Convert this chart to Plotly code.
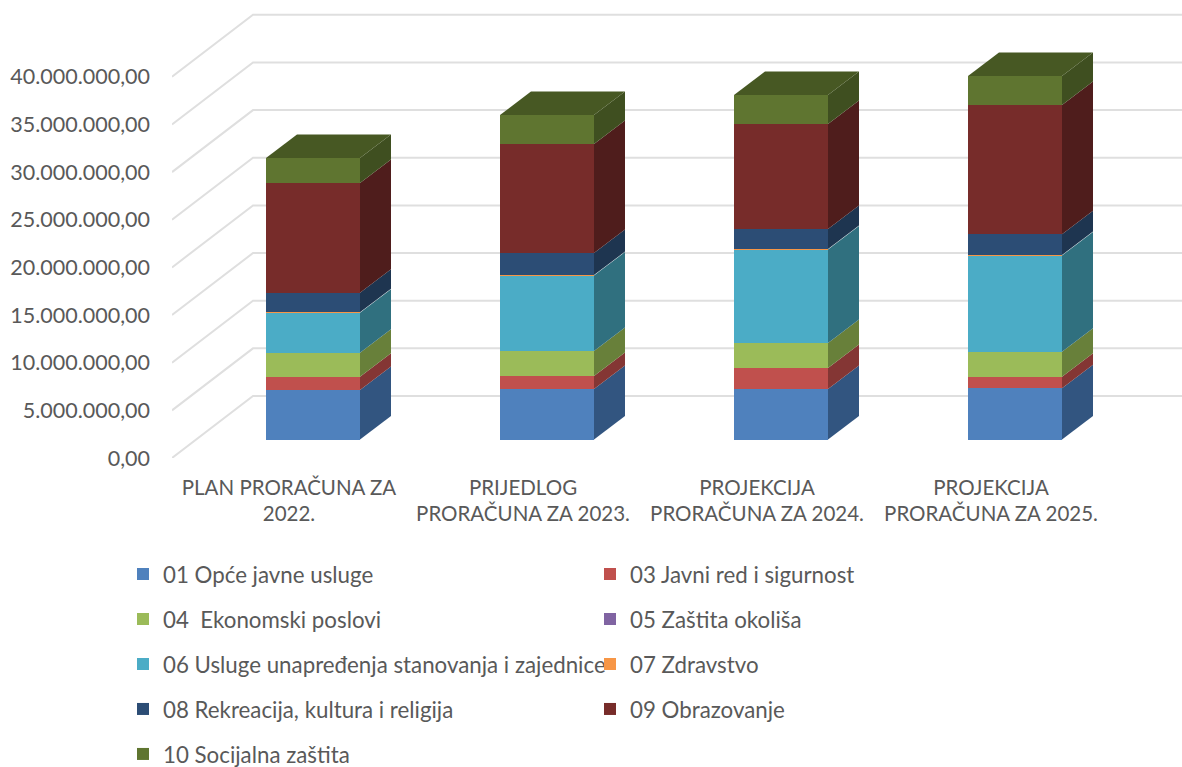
import plotly.graph_objects as go

categories = ["PLAN PRORAČUNA ZA<br>2022.", "PRIJEDLOG<br>PRORAČUNA ZA 2023.",
              "PROJEKCIJA<br>PRORAČUNA ZA 2024.", "PROJEKCIJA<br>PRORAČUNA ZA 2025."]
tick_values = [0, 5, 10, 15, 20, 25, 30, 35, 40]
tick_labels = ["0,00", "5.000.000,00", "10.000.000,00", "15.000.000,00", "20.000.000,00",
               "25.000.000,00", "30.000.000,00", "35.000.000,00", "40.000.000,00"]

names = ["01 Opće javne usluge", "03 Javni red i sigurnost", "04  Ekonomski poslovi",
         "05 Zaštita okoliša", "06 Usluge unapređenja stanovanja i zajednice", "07 Zdravstvo",
         "08 Rekreacija, kultura i religija", "09 Obrazovanje", "10 Socijalna zaštita"]
# millions of kuna
s01 = [5.19, 5.30, 5.30, 5.37]
s03 = [1.40, 1.36, 2.20, 1.22]
s04 = [2.52, 2.62, 2.62, 2.62]
s05 = [0, 0, 0, 0]
s06 = [4.19, 7.92, 9.81, 10.10]
s07 = [0.05, 0.05, 0.05, 0.05]
s08 = [2.06, 2.31, 2.10, 2.17]
s09 = [11.51, 11.44, 11.02, 13.57]
s10 = [2.62, 3.04, 3.04, 3.04]
series = [s01, s03, s04, s05, s06, s07, s08, s09, s10]

front = ["#4F81BD", "#C0504D", "#9BBB59", "#8064A2", "#4BACC6", "#F79646", "#2C4D75", "#772C2A", "#5F7530"]
side = ["#325580", "#843634", "#68803A", "#57446E", "#30707F", "#A8662F", "#1E3550", "#4F1D1C", "#3F4F20"]
top_color = "#475823"
grid_color = "#DFDFDF"
text_color = "#595959"
FONT = "Lato, Carlito, sans-serif"

# scene geometry in axis units (category step = 1, y in millions)
PX_X, PX_Y = 234.0, 9.53
wall_dx, wall_dy = 81 / PX_X, 62 / PX_Y
off_x, off_y = 24 / PX_X, 18.5 / PX_Y
depth_x, depth_y = 31 / PX_X, 23.5 / PX_Y
half = 47 / PX_X
x_min, x_max = -0.5, -0.5 + 1010 / PX_X
y_max = 458 / PX_Y

fig = go.Figure()

for v in tick_values:
    fig.add_shape(type="path", layer="below", xref="x", yref="y",
                  path=f"M {x_min} {v} L {x_min + wall_dx} {v + wall_dy} L {x_max} {v + wall_dy}",
                  line=dict(color=grid_color, width=2))

legend_ids = ["legend", "legend2"]
for k, (name, vals) in enumerate(zip(names, series)):
    bases = [off_y + sum(series[j][c] for j in range(k)) for c in range(4)]
    for c in range(4):
        xr = c + off_x + half
        b, t = bases[c], bases[c] + vals[c]
        fig.add_trace(go.Scatter(
            x=[xr, xr + depth_x, xr + depth_x, xr, xr],
            y=[b, b + depth_y, t + depth_y, t, b],
            mode="lines", fill="toself", fillcolor=side[k], line=dict(width=0),
            showlegend=False, hoverinfo="skip"))
    fig.add_trace(go.Bar(
        x=[c + off_x for c in range(4)], y=vals, base=bases, width=2 * half, name=name,
        marker=dict(color=front[k], line=dict(width=0)),
        legend=legend_ids[k % 2], legendgroup=name))

for c in range(4):
    xl, xr = c + off_x - half, c + off_x + half
    t = off_y + sum(s[c] for s in series)
    fig.add_trace(go.Scatter(
        x=[xl, xl + depth_x, xr + depth_x, xr, xl],
        y=[t, t + depth_y, t + depth_y, t, t],
        mode="lines", fill="toself", fillcolor=top_color, line=dict(width=0),
        showlegend=False, hoverinfo="skip"))

legend_style = dict(font=dict(family=FONT, size=22.3, color=text_color), bgcolor="rgba(0,0,0,0)",
                    tracegroupgap=13, traceorder="grouped", xanchor="left", yanchor="top",
                    indentation=-7, itemclick=False, itemdoubleclick=False)
fig.update_layout(
    width=1182, height=767, margin=dict(l=172, r=0, t=0, b=309, autoexpand=False),
    paper_bgcolor="white", plot_bgcolor="white", barmode="overlay", bargap=0,
    font=dict(family=FONT, color=text_color),
    xaxis=dict(range=[x_min, x_max], tickmode="array", tickvals=list(range(4)), ticktext=categories,
               showgrid=False, zeroline=False, showline=False, ticks="",
               ticklabelstandoff=15, tickangle=0, automargin=False,
               tickfont=dict(family=FONT, size=20.5, color=text_color)),
    yaxis=dict(range=[0, y_max], tickmode="array", tickvals=tick_values, ticktext=tick_labels,
               showgrid=False, zeroline=False, showline=False, ticks="",
               ticklabelstandoff=21, automargin=False,
               tickfont=dict(family=FONT, size=21.5, color=text_color)),
    legend=dict(x=(130 - 172) / 1010, y=(767 - 309 - 553) / 458, **legend_style),
    legend2=dict(x=(597 - 172) / 1010, y=(767 - 309 - 553) / 458, **legend_style),
)
fig.write_html("out.html", config={"displayModeBar": False},
               post_script="document.body.style.margin='0';")
